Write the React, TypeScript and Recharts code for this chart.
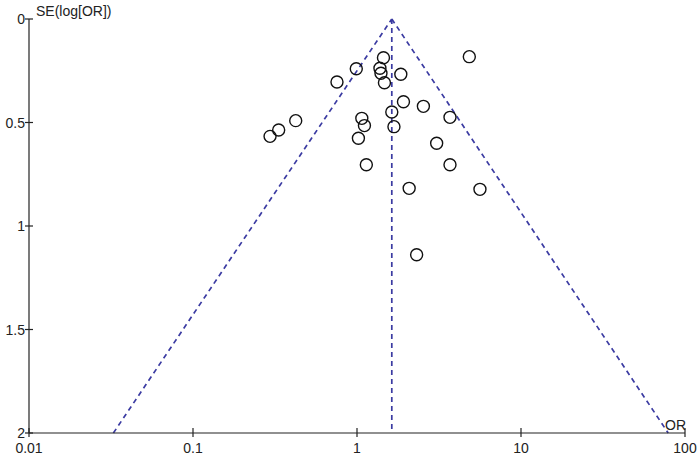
import { ReferenceLine, Scatter, ScatterChart, XAxis, YAxis } from "recharts";

const CHART_WIDTH = 700;
const CHART_HEIGHT = 457;
const FUNNEL_COLOR = "#3b3ba2";
const FONT = "'Liberation Sans', Arial, sans-serif";

// study odds ratios and their standard errors (log scale)
const oddsRatios = [
  1.45, 0.99, 1.38, 1.4, 1.85, 0.755, 1.47, 1.92, 2.54, 1.63, 0.423, 1.07, 0.333,
  0.295, 1.11, 1.68, 1.02, 1.14, 3.06, 4.84, 3.69, 3.69, 2.08, 5.62, 2.31,
];
const standardErrors = [
  0.187, 0.24, 0.238, 0.262, 0.267, 0.304, 0.308, 0.4, 0.422, 0.449, 0.491, 0.48, 0.536,
  0.567, 0.515, 0.52, 0.576, 0.704, 0.6, 0.182, 0.475, 0.704, 0.818, 0.823, 1.139,
];

const pooledOR = 1.63;
const funnelLowOR = 0.0327;
const funnelHighOR = 79;
const seMax = 2;

const xTicks = [0.01, 0.1, 1, 10, 100];
const yTicks = [0, 0.5, 1, 1.5, 2];

const points = oddsRatios.map((or, i) => ({ or, se: standardErrors[i] }));

function XTick({ x, y, payload }: any) {
  return (
    <g>
      <line x1={x} x2={x} y1={y - 5} y2={y + 4} stroke="#222" strokeWidth={1.2} />
      <text x={x} y={y + 20} textAnchor="middle" fontSize={14} fontFamily={FONT} fill="#222">
        {String(payload.value)}
      </text>
    </g>
  );
}

function YTick({ x, y, payload }: any) {
  return (
    <g>
      <line x1={x - 4} x2={x + 4} y1={y} y2={y} stroke="#222" strokeWidth={1.2} />
      <text x={x - 4} y={y + 5} textAnchor="end" fontSize={14} fontFamily={FONT} fill="#222">
        {String(payload.value)}
      </text>
    </g>
  );
}

function Ring({ cx, cy }: any) {
  return <circle cx={cx} cy={cy} r={6} fill="none" stroke="#111" strokeWidth={1.4} />;
}

export default function App() {
  return (
    <div style={{ position: "absolute", left: 0, top: 0, background: "#fff" }}>
      <ScatterChart
        width={CHART_WIDTH}
        height={CHART_HEIGHT}
        margin={{ top: 19, right: 15, bottom: 0, left: 0 }}
      >
        <XAxis
          type="number"
          dataKey="or"
          scale="log"
          domain={[0.01, 100]}
          ticks={xTicks}
          allowDataOverflow
          tickSize={0}
          tickMargin={0}
          tick={<XTick />}
          tickLine={false}
          height={24}
          axisLine={{ stroke: "#222", strokeWidth: 1.2 }}
          label={{
            content: () => (
              <text x={665} y={430} fontSize={14} fontFamily={FONT} fill="#222">
                OR
              </text>
            ),
          }}
        />
        <YAxis
          type="number"
          dataKey="se"
          domain={[0, 2]}
          reversed
          ticks={yTicks}
          width={29}
          tickSize={0}
          tickMargin={0}
          tick={<YTick />}
          tickLine={false}
          axisLine={{ stroke: "#222", strokeWidth: 1.2 }}
          label={{
            content: () => (
              <text x={36} y={16} fontSize={14} fontFamily={FONT} fill="#222">
                SE(log[OR])
              </text>
            ),
          }}
        />
        <ReferenceLine
          segment={[
            { x: funnelLowOR, y: seMax },
            { x: pooledOR, y: 0 },
          ]}
          stroke={FUNNEL_COLOR}
          strokeWidth={1.7}
          strokeDasharray="5 4"
          ifOverflow="visible"
        />
        <ReferenceLine
          segment={[
            { x: pooledOR, y: 0 },
            { x: funnelHighOR, y: seMax },
          ]}
          stroke={FUNNEL_COLOR}
          strokeWidth={1.7}
          strokeDasharray="5 4"
          ifOverflow="visible"
        />
        <ReferenceLine
          segment={[
            { x: pooledOR, y: 0 },
            { x: pooledOR, y: seMax },
          ]}
          stroke={FUNNEL_COLOR}
          strokeWidth={1.7}
          strokeDasharray="5 4"
          ifOverflow="visible"
        />
        <Scatter data={points} shape={<Ring />} isAnimationActive={false} />
      </ScatterChart>
    </div>
  );
}
